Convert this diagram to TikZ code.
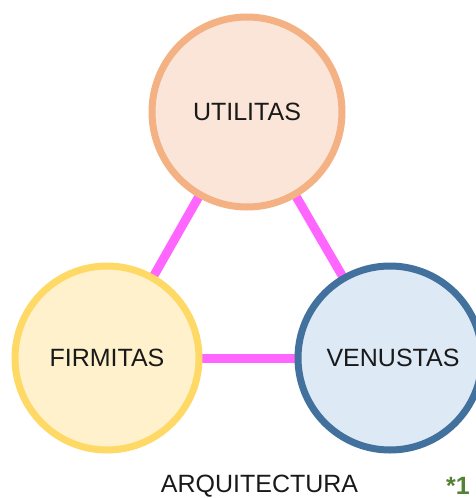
\documentclass[tikz,border=0pt]{standalone}
\usepackage{fontspec}
\setmainfont{Liberation Sans}
\usetikzlibrary{backgrounds}
\definecolor{utilFill}{HTML}{FAE5D8}
\definecolor{utilDraw}{HTML}{F4B183}
\definecolor{firmFill}{HTML}{FFF1CC}
\definecolor{firmDraw}{HTML}{FFD966}
\definecolor{venuFill}{HTML}{DEE9F6}
\definecolor{venuDraw}{HTML}{41719C}
\definecolor{linkPink}{HTML}{FF66FF}
\definecolor{noteGreen}{HTML}{548235}
\begin{document}
\begin{tikzpicture}[x=1pt, y=-1pt]
            \tikzstyle{concept} = [circle, line width=7pt, inner sep=0pt, text=black!90, font=\fontsize{25}{30}\selectfont]
            \tikzstyle{link} = [line width=9pt, draw=linkPink]
            
            \useasboundingbox (0, 0) rectangle (476, 498);
            
            \node[concept, minimum size=190pt, fill=utilFill, draw=utilDraw] (utilitas) at (247, 112) {UTILITAS};
            \node[concept, minimum size=184pt, fill=firmFill, draw=firmDraw] (firmitas) at (107, 358) {FIRMITAS};
            \node[concept, minimum size=184pt, fill=venuFill, draw=venuDraw] (venustas) at (390, 358) {\hspace{6pt}VENUSTAS};
            
            \begin{pgfonlayer}{background}
                \draw[link] (utilitas.center) -- (firmitas.center);
                \draw[link] (utilitas.center) -- (venustas.center);
                \draw[link] (firmitas.center) -- (venustas.center);
            \end{pgfonlayer}
            
            \node[font=\fontsize{25}{30}\selectfont, text=black!90, anchor=base] (arq) at (259.5, 492) {ARQUITECTURA};
            \node[font=\fontsize{25}{30}\selectfont\bfseries, text=noteGreen, anchor=base west, inner sep=0pt] (note) at (446, 494) {*1};
        \end{tikzpicture}
\end{document}
